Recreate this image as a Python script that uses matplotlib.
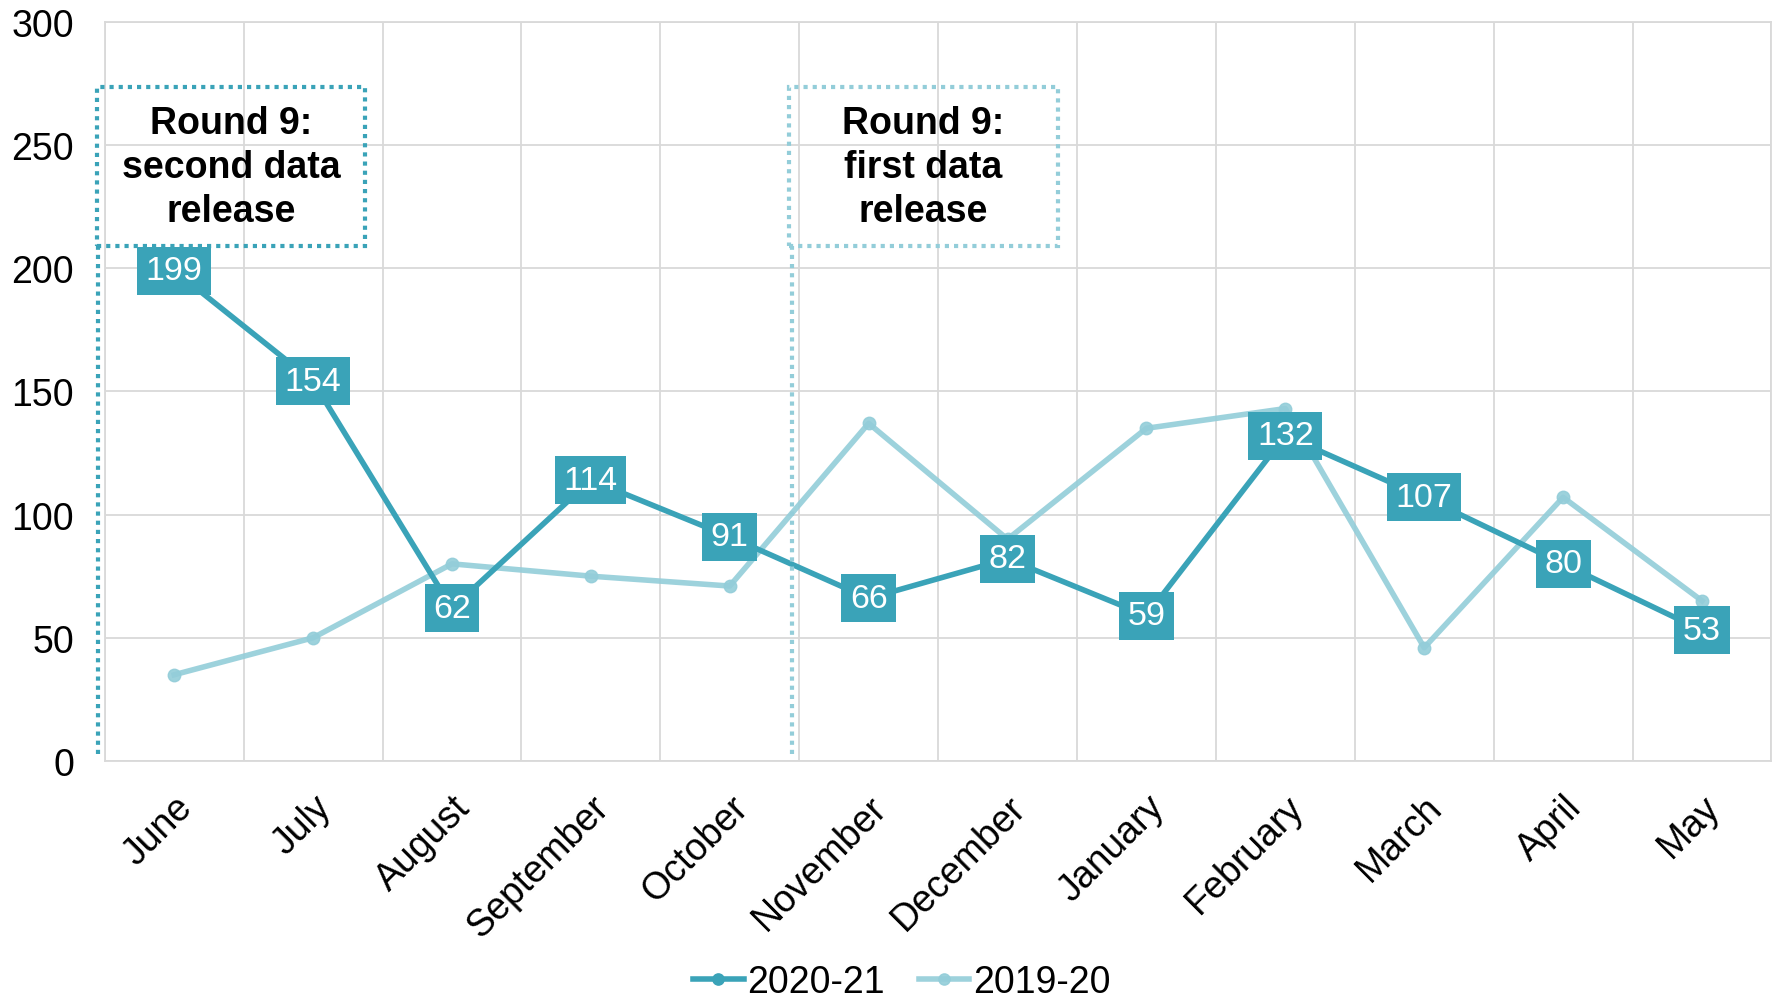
import matplotlib.pyplot as plt
from matplotlib.patches import Rectangle

plt.rcParams['font.family'] = ['Liberation Sans', 'DejaVu Sans']

months = ['June', 'July', 'August', 'September', 'October', 'November',
          'December', 'January', 'February', 'March', 'April', 'May']
y2021 = [199, 154, 62, 114, 91, 66, 82, 59, 132, 107, 80, 53]
y1920 = [35, 50, 80, 75, 71, 137, 90, 135, 143, 46, 107, 65]

dark = '#3aa3b8'
light = '#93cdd9'

fig = plt.figure(figsize=(17.75, 10.04), dpi=100)
ax = fig.add_axes([0.059, 0.241, 0.939, 0.7365])

x = list(range(len(months)))
ax.plot(x, y1920, color=light, lw=4, marker='o', ms=9, alpha=0.9,
        label='2019-20', zorder=3)
ax.plot(x, y2021, color=dark, lw=4, marker='o', ms=9,
        label='2020-21', zorder=4)

for xi, v in zip(x, y2021):
    ax.text(xi, v, str(v), ha='center', va='center', color='white', fontsize=24.5,
            zorder=6,
            bbox=dict(boxstyle='square,pad=0.25', fc=dark, ec='none'))

ax.set_xlim(-0.5, 11.5)
ax.set_ylim(0, 300)
ax.set_yticks(range(0, 301, 50))
ax.set_xticks(x)
ax.set_xticklabels(months, rotation=45, ha='right', va='top',
                   rotation_mode='anchor', fontsize=27)
ax.tick_params(axis='y', labelsize=27, length=0, pad=22)
ax.tick_params(axis='x', length=0, pad=20)

# category gridlines sit between the months
ax.set_xticks([i + 0.5 for i in range(-1, 12)], minor=True)
ax.grid(True, which='minor', axis='x', color='#d9d9d9', lw=1.3)
ax.grid(True, which='major', axis='y', color='#d9d9d9', lw=1.3)
ax.tick_params(which='minor', length=0)
ax.set_axisbelow(True)
for s in ax.spines.values():
    s.set_color('#d9d9d9')
    s.set_linewidth(1.3)

# release markers
boxes = [(-0.557, 1.374, 'Round 9:\nsecond data\nrelease', dark, -0.545),
         (4.43, 6.36, 'Round 9:\nfirst data\nrelease', light, 4.447)]
for x0, x1, txt, col, vx in boxes:
    ax.add_patch(Rectangle((x0, 209), x1 - x0, 64.5, fill=False, ec=col,
                           lw=3, ls=(0, (1, 1.2)), clip_on=False, zorder=5))
    ax.plot([vx, vx], [3, 209], color=col, lw=3, ls=(0, (1, 1.2)),
            clip_on=False, zorder=5)
    ax.text((x0 + x1) / 2, 241, txt, ha='center', va='center',
            fontsize=27, fontweight='bold', linespacing=1.28, zorder=6)

h, l = ax.get_legend_handles_labels()
fig.legend(h[::-1], l[::-1], loc='lower center', ncol=2, frameon=False,
           fontsize=27, bbox_to_anchor=(0.508, -0.031), handlelength=1.35,
           handletextpad=0.1, columnspacing=0.9, markerscale=0.9)

fig.savefig('out.png', dpi=100)
